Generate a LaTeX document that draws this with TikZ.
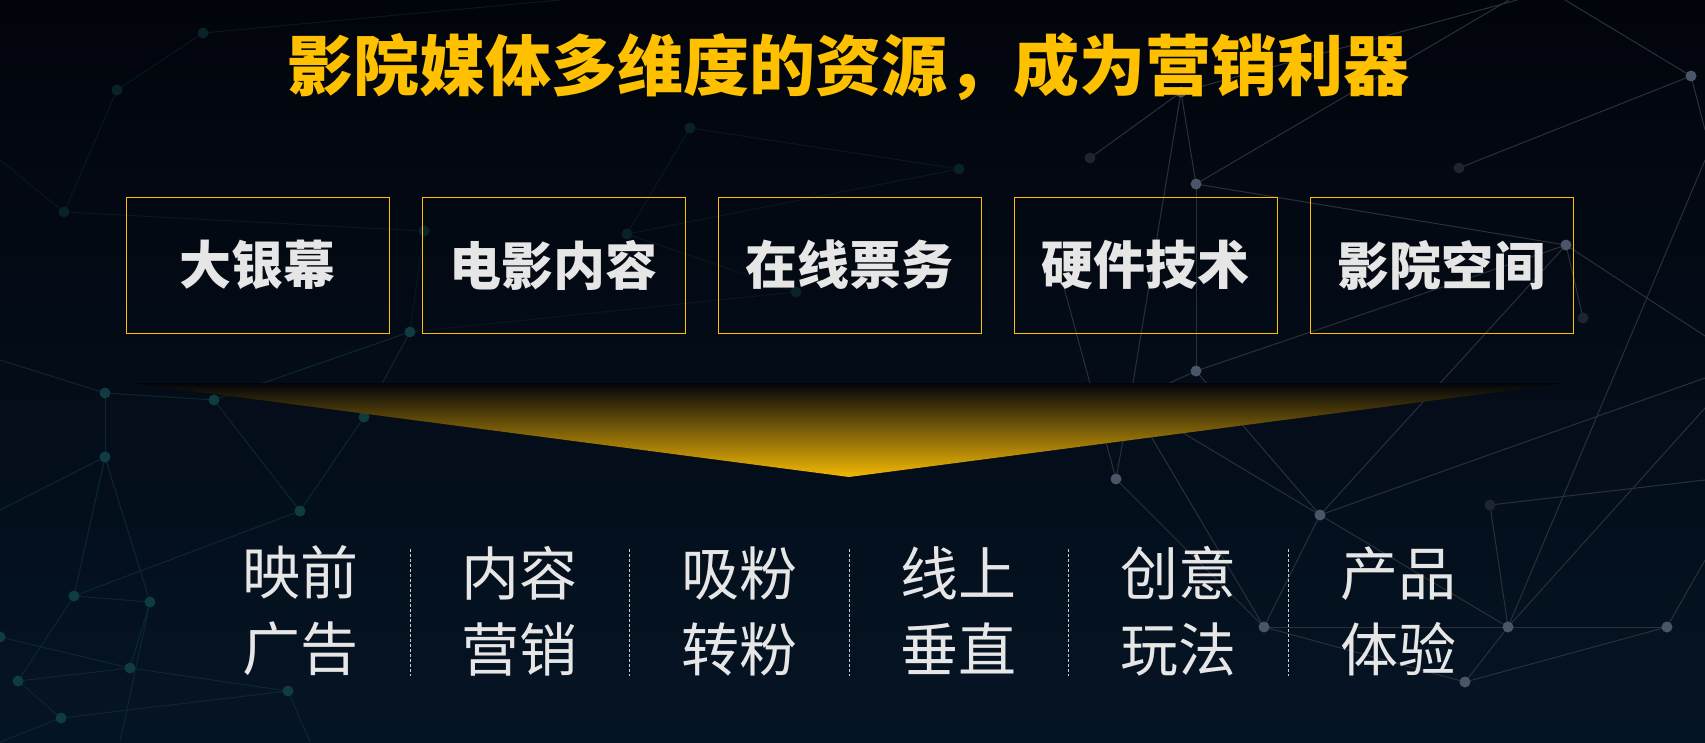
\documentclass[tikz,border=0pt]{standalone}
\usepackage{fontspec}
\newfontfamily\cjk{Noto Sans CJK SC}
\usetikzlibrary{positioning}

\definecolor{bgtop}{HTML}{02040B}
\definecolor{bgbot}{HTML}{051424}
\definecolor{gold}{HTML}{FFC000}
\definecolor{funnelgold}{HTML}{F2B705}
\definecolor{boxtext}{HTML}{E6E6E6}
\definecolor{netgrey}{HTML}{2A3039}
\definecolor{dotgrey}{HTML}{4A5668}
\definecolor{netteal}{HTML}{0B2830}
\definecolor{dotteal}{HTML}{0F3B42}

\tikzset{
  resbox/.style={draw=gold, line width=1pt, minimum width=263pt, minimum height=136pt,
    outer sep=0pt, inner sep=0pt, text=boxtext, font=\cjk\bfseries\fontsize{52}{60}\selectfont},
  usage/.style={text=boxtext, align=center, inner sep=0pt, font=\cjk\fontsize{58}{76}\selectfont},
  sepline/.style={white!80!black, line width=1pt, dash pattern=on 3pt off 2pt},
  netline/.style={netgrey, line width=1pt},
  tealline/.style={netteal, line width=1pt},
  faintline/.style={netteal!55!bgtop, line width=1pt},
}

\begin{document}
\begin{tikzpicture}[x=1pt,y=-1pt]

  \useasboundingbox (0,0) rectangle (1705,742);
  \clip (0,0) rectangle (1705,742);
  \shade[top color=bgtop, bottom color=bgbot] (0,0) rectangle (1705,742); % hatter

  % halozat, jobb oldal
  \foreach \n/\x/\y in {1/1691/76, 2/1181/92, 3/1196/184, 4/1566/245, 5/1196/371, 6/1130/401,
      7/1116/479, 8/1320/515, 9/1264/627, 10/1508/627, 11/1667/627, 12/1465/682,
      13/1490/505, 14/1583/318, 15/1090/158, 16/1459/168}
    \coordinate (r\n) at (\x,\y);
  \foreach \n/\x/\y in {1/1565/0, 2/1705/130, 3/1517/0, 4/1509/0, 5/1705/336, 6/1705/378,
      7/1705/408, 8/1705/560, 9/1063/284, 10/1580/0, 11/1705/160, 12/1705/480}
    \coordinate (re\n) at (\x,\y);
  \foreach \a/\b in {r1/re1, r1/re2, r10/re11, r2/re3, r3/re4, r2/r3, r3/r4, r3/r5, r4/r5, r4/r8,
      r4/re5, r5/r6, r5/r8, r6/r7, r6/r8, r6/r9, r6/r2, r7/r9, r7/re9, r8/r9, r8/r10, r8/re6,
      r9/r10, r9/r12, r10/r11, r10/r12, r12/r11, r10/re7, r11/re8, r10/r13, r13/re12, r2/r15,
      r14/r4, r16/r1}
    \draw[netline] (\a) -- (\b);
  \foreach \n in {1,...,12}
    \fill[dotgrey] (r\n) circle (5.5);
  \foreach \n in {13,...,16}
    \fill[dotgrey!40!bgtop] (r\n) circle (5.5);

  % halozat, bal oldal
  \foreach \n/\x/\y in {1/105/393, 2/214/400, 3/105/457, 4/300/511, 5/74/596, 6/150/602,
      7/0/637, 8/130/668, 9/18/681, 10/288/691, 11/61/718, 12/364/417, 13/410/332,
      14/64/212, 15/117/90, 16/203/33, 17/690/128, 18/959/169, 19/627/234, 20/796/292,
      21/424/231}
    \coordinate (l\n) at (\x,\y);
  \foreach \n/\x/\y in {1/0/360, 2/0/510, 3/0/742, 4/310/742, 5/0/160, 6/120/742, 7/560/0}
    \coordinate (le\n) at (\x,\y);
  \foreach \a/\b in {l1/l2, l1/l3, l1/le1, l2/l4, l4/l12, l3/l6, l3/le2, l3/l5, l5/l6, l5/l9,
      l6/l8, l8/l7, l8/l9, l4/l5, l10/l11, l10/l8, l11/l9, l11/le3, l10/le4, l6/le6, l12/l13,
      l2/l13}
    \draw[tealline] (\a) -- (\b);
  \foreach \a/\b in {l14/l15, l15/l16, l14/le5, l14/l21, l13/l21, l17/l19, l17/l18, l18/l19,
      l19/l20, l20/l13, l16/le7}
    \draw[faintline] (\a) -- (\b);
  \foreach \n in {1,...,13}
    \fill[dotteal] (l\n) circle (5.5);
  \foreach \n in {14,...,21}
    \fill[dotteal!55!bgtop] (l\n) circle (5.5);

  % cim
  \node[text=gold, font=\cjk\bfseries\fontsize{66}{70}\selectfont] (title) at (848,67)
    {影院媒体多维度的资源，成为营销利器};

  % dobozok
  \node[resbox] (b1) at (257.5,265) {大银幕};
  \node[resbox, right=33pt of b1] (b2) {电影内容};
  \node[resbox, right=33pt of b2] (b3) {在线票务};
  \node[resbox, right=33pt of b3] (b4) {硬件技术};
  \node[resbox, right=33pt of b4] (b5) {影院空间};

  % tolcser
  \coordinate (fl) at (130,383);
  \coordinate (fr) at (1566,383);
  \coordinate (fa) at (849,477);
  \shade[top color=bgtop, bottom color=funnelgold] (fl) -- (fr) -- (fa) -- cycle;

  % also sor
  \foreach \i/\t in {0/{映前\\广告}, 1/{内容\\营销}, 2/{吸粉\\转粉}, 3/{线上\\垂直}, 4/{创意\\玩法}, 5/{产品\\体验}}
    \node[usage] (c\i) at (300+219.6*\i,611) {\t};
  \foreach \i in {1,...,5} {
    \coordinate (st\i) at (190.4+219.6*\i,549);
    \coordinate (sb\i) at (190.4+219.6*\i,676);
    \draw[sepline] (st\i) -- (sb\i);
  }

\end{tikzpicture}
\end{document}
